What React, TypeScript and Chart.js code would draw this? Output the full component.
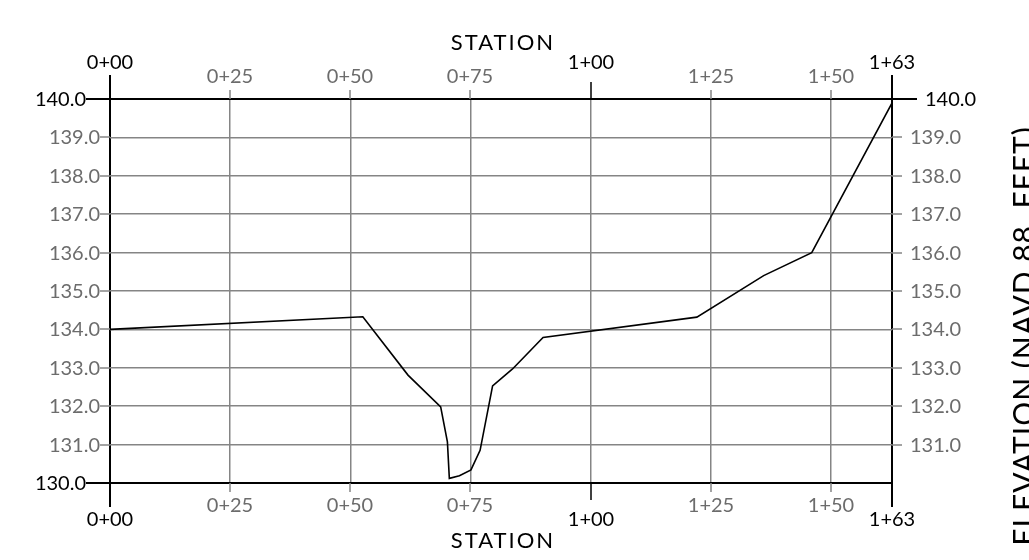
import React, { useEffect, useRef } from "react";
import { Chart, registerables } from "chart.js";

Chart.register(...registerables);

// ---- data ----
const stations = [0, 52.6, 62.0, 68.8, 70.2, 70.6, 72.7, 75.1, 77.0, 79.6, 83.75, 90.1, 122.1, 136.0, 146.0, 162.6];
const elevations = [134.0, 134.33, 132.81, 131.98, 131.07, 130.12, 130.19, 130.34, 130.85, 132.53, 132.97, 133.79, 134.32, 135.4, 136.0, 139.87];

const stationTicks = [0, 25, 50, 75, 100, 125, 150, 162.7];
const stationTickLabels = ["0+00", "0+25", "0+50", "0+75", "1+00", "1+25", "1+50", "1+63"];
const majorStationTicks = [0, 100, 162.7];

const elevationTicks = [130, 131, 132, 133, 134, 135, 136, 137, 138, 139, 140];
const leftElevationLabels = ["130.0", "131.0", "132.0", "133.0", "134.0", "135.0", "136.0", "137.0", "138.0", "139.0", "140.0"];
const rightElevationLabels = ["", "131.0", "132.0", "133.0", "134.0", "135.0", "136.0", "137.0", "138.0", "139.0", "140.0"];
const majorElevationTicks = [130, 140];

const X_MIN = 0;
const X_MAX = 162.7;
const Y_MIN = 130;
const Y_MAX = 140;

const xTitle = "STATION";
const yTitle = "ELEVATION (NAVD 88, FEET)";

const BLACK = "#000000";
const GRID = "#858585";
const GRAY_TEXT = "#6c6c6c";
const FONT = "Lato, 'Liberation Sans', sans-serif";

const decorPlugin = {
  id: "decor",
  afterDraw(chart: any) {
    const ctx = chart.ctx as CanvasRenderingContext2D;
    const xs = chart.scales.x;
    const ys = chart.scales.y;
    const { left, right, top, bottom } = chart.chartArea;
    const line = (x1: number, y1: number, x2: number, y2: number) => {
      ctx.beginPath();
      ctx.moveTo(x1, y1);
      ctx.lineTo(x2, y2);
      ctx.stroke();
    };
    ctx.save();
    ctx.font = `20px ${FONT}`;
    // station ticks & labels
    stationTicks.forEach((v, i) => {
      const px = Math.round(xs.getPixelForValue(v));
      const major = majorStationTicks.includes(v);
      const edge = v === X_MIN || v === X_MAX;
      ctx.strokeStyle = major ? BLACK : GRID;
      ctx.lineWidth = edge ? 2 : 1.5;
      const len = edge ? 24 : major ? 17 : 9;
      line(px, top - len, px, top);
      line(px, bottom, px, bottom + len);
      ctx.fillStyle = major ? BLACK : GRAY_TEXT;
      ctx.textAlign = "center";
      ctx.textBaseline = "middle";
      ctx.fillText(stationTickLabels[i], px, top - (major ? 36.5 : 22));
      ctx.fillText(stationTickLabels[i], px, bottom + (major ? 37 : 22.5));
    });
    // elevation ticks & labels
    elevationTicks.forEach((v, i) => {
      const py = Math.round(ys.getPixelForValue(v));
      const major = majorElevationTicks.includes(v);
      ctx.strokeStyle = major ? BLACK : GRID;
      ctx.lineWidth = major ? 2 : 1.5;
      line(left - (major ? 24 : 10), py, left, py);
      if (v !== Y_MIN) line(right, py, right + (major ? 25 : 10), py);
      ctx.fillStyle = major ? BLACK : GRAY_TEXT;
      ctx.textBaseline = "middle";
      ctx.textAlign = "right";
      ctx.fillText(leftElevationLabels[i], left - (major ? 24 : 10), py + 1);
      ctx.textAlign = "left";
      if (rightElevationLabels[i]) ctx.fillText(rightElevationLabels[i], right + (major ? 33 : 18), py + 1);
    });
    // titles
    ctx.fillStyle = BLACK;
    ctx.font = `22px ${FONT}`;
    (ctx as any).letterSpacing = "2px";
    ctx.textAlign = "center";
    ctx.textBaseline = "middle";
    const cx = (left + right) / 2 + 2;
    ctx.fillText(xTitle, cx, 42.5);
    ctx.fillText(xTitle, cx, 541);
    ctx.font = `30px ${FONT}`;
    (ctx as any).letterSpacing = "1px";
    ctx.translate(1034.5, 336);
    ctx.rotate(-Math.PI / 2);
    ctx.textBaseline = "alphabetic";
    ctx.fillText(yTitle, 0, 0);
    ctx.restore();
  },
};

export default function App() {
  const canvasRef = useRef<HTMLCanvasElement | null>(null);

  useEffect(() => {
    if (!canvasRef.current) return;
    const points = stations.map((s, i) => ({ x: s, y: elevations[i] }));
    const chart = new Chart(canvasRef.current, {
      type: "line",
      data: {
        datasets: [
          {
            data: points,
            borderColor: BLACK,
            borderWidth: 1.6,
            pointRadius: 0,
            tension: 0,
            fill: false,
          },
        ],
      },
      options: {
        responsive: false,
        animation: false,
        devicePixelRatio: 1,
        layout: { padding: 0 },
        plugins: { legend: { display: false }, tooltip: { enabled: false } },
        scales: {
          x: {
            type: "linear",
            position: "bottom",
            min: X_MIN,
            max: X_MAX,
            afterBuildTicks: (s: any) => {
              s.ticks = stationTicks.map((v) => ({ value: v }));
            },
            afterFit: (s: any) => {
              s.height = 77;
            },
            ticks: { display: false },
            border: { display: false },
            grid: {
              drawTicks: false,
              color: (c: any) => (c.tick && (c.tick.value === X_MIN || c.tick.value === X_MAX) ? BLACK : GRID),
              lineWidth: (c: any) => (c.tick && (c.tick.value === X_MIN || c.tick.value === X_MAX) ? 2 : 1.5),
            },
          },
          x2: {
            type: "linear",
            axis: "x",
            position: "top",
            min: X_MIN,
            max: X_MAX,
            afterFit: (s: any) => {
              s.height = 99;
            },
            ticks: { display: false },
            border: { display: false },
            grid: { display: false, drawTicks: false },
          },
          y: {
            type: "linear",
            position: "left",
            min: Y_MIN,
            max: Y_MAX,
            afterBuildTicks: (s: any) => {
              s.ticks = elevationTicks.map((v) => ({ value: v }));
            },
            afterFit: (s: any) => {
              s.width = 110;
            },
            ticks: { display: false },
            border: { display: false },
            grid: {
              drawTicks: false,
              color: (c: any) => (c.tick && majorElevationTicks.includes(c.tick.value) ? BLACK : GRID),
              lineWidth: (c: any) => (c.tick && majorElevationTicks.includes(c.tick.value) ? 2 : 1.5),
            },
          },
          y2: {
            type: "linear",
            axis: "y",
            position: "right",
            min: Y_MIN,
            max: Y_MAX,
            afterFit: (s: any) => {
              s.width = 137;
            },
            ticks: { display: false },
            border: { display: false },
            grid: { display: false, drawTicks: false },
          },
        },
      } as any,
      plugins: [decorPlugin],
    });
    return () => chart.destroy();
  }, []);

  return (
    <div style={{ position: "absolute", left: 0, top: 0, width: 1029, height: 560, background: "#fff" }}>
      <canvas ref={canvasRef} width={1029} height={560} style={{ display: "block" }} />
    </div>
  );
}
